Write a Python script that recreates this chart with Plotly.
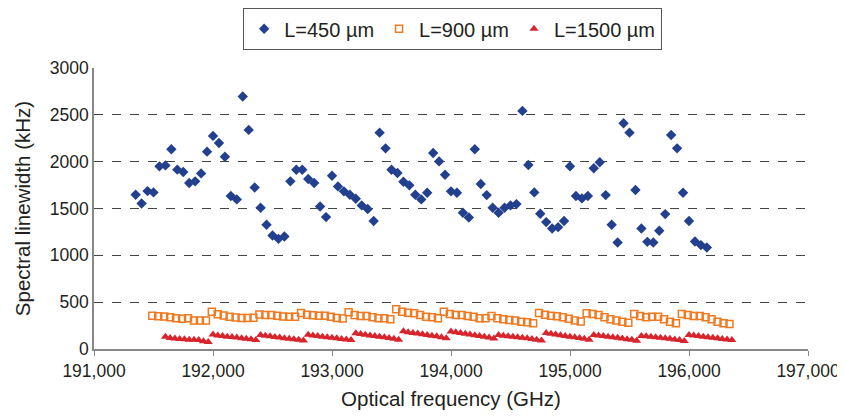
import plotly.graph_objects as go

# Optical frequency grids (GHz) for each device
freq_450 = list(range(191350, 196151, 50))
freq_900 = list(range(191490, 196341, 50))
freq_1500 = list(range(191600, 196361, 40))

# Spectral linewidth (kHz)
lw_450 = [1647, 1554, 1686, 1672, 1950, 1960, 2132, 1915, 1890, 1772, 1790, 1875, 2107, 2275, 2200, 2053, 1633, 1597, 2695, 2339, 1725, 1508, 1326, 1212, 1176,
          1201, 1790, 1914, 1914, 1815, 1772, 1522, 1408, 1850, 1736, 1683, 1647, 1604, 1533, 1494, 1366, 2310, 2142, 1914, 1879, 1786, 1747, 1647, 1597, 1668, 2093, 2003, 1861, 1683, 1668,
          1454, 1404, 2132, 1761, 1643, 1508, 1454, 1508, 1533, 1547, 2542, 1964, 1672, 1444, 1355, 1287, 1301, 1366, 1950, 1633, 1608, 1633, 1929, 1993, 1643, 1326, 1137, 2410, 2310, 1697,
          1287, 1144, 1137, 1262, 1440, 2285, 2142, 1668, 1366, 1148, 1109, 1083]

lw_900 = [355, 350, 348, 340, 328, 322, 328, 305, 303, 303,
          398, 372, 358, 345, 335, 330, 330, 334,
          367, 362, 362, 356, 346, 345, 345,
          385, 365, 360, 356, 356, 345, 330, 325,
          392, 363, 352, 352, 338, 328, 328, 317,
          424, 399, 388, 381, 363, 345, 338, 328,
          399, 374, 363, 363, 352, 345, 328, 328, 352, 328, 317, 310, 303, 292, 285, 274,
          385, 365, 355, 350, 340, 322, 305, 293,
          381, 374, 363, 338, 317, 303, 292, 281,
          374, 352, 338, 345, 345, 317, 292, 274,
          374, 363, 352, 352, 338, 317, 292, 274, 267]

lw_1500 = [132, 118, 112, 108, 104, 100, 98, 95, 82, 76,
           155, 145, 138, 132, 128, 122, 115, 110, 105, 95,
           150, 142, 135, 128, 122, 116, 110, 105, 100, 92,
           152, 145, 138, 132, 126, 120, 114, 108, 102, 95,
           168, 160, 152, 145, 138, 132, 126, 118, 110, 100,
           190, 180, 172, 165, 158, 150, 142, 135, 125, 115,
           188, 178, 170, 162, 155, 148, 140, 132, 122, 112,
           150, 142, 135, 130, 125, 120, 115, 108, 100, 92,
           172, 162, 155, 148, 140, 132, 125, 118, 110, 100,
           150, 145, 138, 132, 126, 120, 112, 105, 98, 88,
           140, 135, 130, 125, 120, 115, 110, 102, 95, 85,
           150, 145, 138, 132, 126, 120, 114, 108, 102, 95]

names = ["L=450 µm", "L=900 µm", "L=1500 µm"]
x_ticks = [191000, 192000, 193000, 194000, 195000, 196000, 197000]
y_ticks = [0, 500, 1000, 1500, 2000, 2500, 3000]

fig = go.Figure()
fig.add_trace(go.Scatter(x=freq_450, y=lw_450, mode="markers", name=names[0],
                         marker=dict(symbol="diamond", size=8, color="#23408e")))
fig.add_trace(go.Scatter(x=freq_900, y=lw_900, mode="markers", name=names[1],
                         marker=dict(symbol="square-open", size=7, color="#f07a22",
                                     line=dict(width=1.5, color="#f07a22"))))
fig.add_trace(go.Scatter(x=freq_1500, y=lw_1500, mode="markers", name=names[2],
                         marker=dict(symbol="triangle-up", size=8, color="#d7252d")))

font = "Liberation Sans, Arial, Helvetica, sans-serif"
# The page body has an 8px default margin, so the figure is sized to fit the 845x416 window.
fig.update_layout(
    width=837, height=408,
    margin=dict(l=86, r=37, t=60, b=67, autoexpand=False),
    paper_bgcolor="white", plot_bgcolor="white",
    font=dict(family=font, size=17.5, color="#231f20"),
    showlegend=True,
    legend=dict(orientation="h", x=0.531, xanchor="center", xref="container",
                y=1.0, yanchor="top", yref="container",
                bordercolor="#555555", borderwidth=1.2, bgcolor="white",
                font=dict(size=20, color="#231f20"), itemwidth=30,
                tracegroupgap=0),
    xaxis=dict(range=[191000, 197000], tickvals=x_ticks,
               ticktext=[f"{v:,}" for v in x_ticks], automargin=False,
               showgrid=False, zeroline=False, showline=True, linecolor="#888888", linewidth=1.5,
               ticks="outside", ticklen=5, tickcolor="#888888",
               title=dict(text="Optical frequency (GHz)", font=dict(size=20.5), standoff=12)),
    yaxis=dict(range=[0, 3000], tickvals=y_ticks, automargin=False,
               showgrid=True, gridcolor="#444444", griddash="dash", gridwidth=1,
               zeroline=False, showline=True, linecolor="#888888", linewidth=1.5,
               ticks="", tickcolor="#888888",
               title=dict(text="Spectral linewidth (kHz)", font=dict(size=20.5), standoff=14)),
)

fig.write_html("out.html")
